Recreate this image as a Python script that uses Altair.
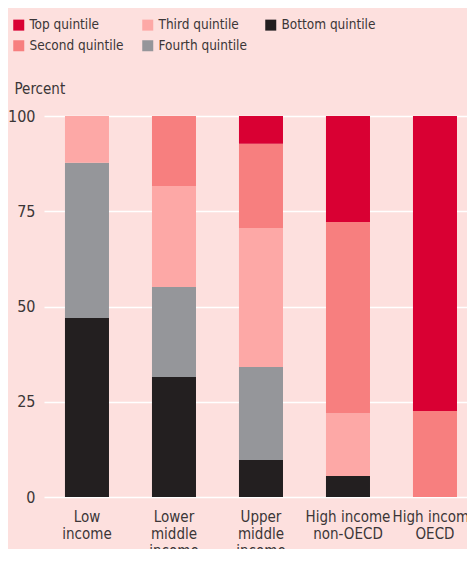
import altair as alt
import pandas as pd

categories = ["Low|income", "Lower|middle|income", "Upper|middle|income",
              "High income|non-OECD", "High income|OECD"]
quintiles = ["Bottom quintile", "Fourth quintile", "Third quintile",
             "Second quintile", "Top quintile"]
# values per quintile (bottom..top) for each category, percent
bottom = [47.0, 31.5, 9.7, 5.5, 0.0]
fourth = [40.7, 23.6, 24.4, 0.0, 0.0]
third = [12.3, 26.5, 36.5, 16.5, 0.0]
second = [0.0, 18.4, 22.1, 50.2, 22.6]
top = [0.0, 0.0, 7.3, 27.8, 77.4]

series = [bottom, fourth, third, second, top]
rows = []
for qi, (q, vals) in enumerate(zip(quintiles, series)):
    for c, v in zip(categories, vals):
        rows.append({"category": c, "quintile": q, "value": v, "order": qi})
df = pd.DataFrame(rows)

legend_domain = ["Top quintile", "Second quintile", "Third quintile",
                 "Fourth quintile", "Bottom quintile"]
legend_range = ["#d90033", "#f77f7f", "#fda8a6", "#95969a", "#231f20"]

FONT = "DejaVu Sans Condensed, DejaVu Sans"
TXT = "#3b3637"

chart = alt.Chart(df).mark_bar().encode(
    x=alt.X("category:N", sort=categories,
            scale=alt.Scale(paddingInner=0.494, paddingOuter=0.178, align=0.677),
            axis=alt.Axis(title=None, labelAngle=0, domain=False, ticks=False,
                          labelExpr="split(datum.value, '|')",
                          labelFontSize=15, labelLineHeight=17,
                          labelPadding=12, labelBaseline="top",
                          labelColor=TXT, labelFont=FONT)),
    y=alt.Y("value:Q", stack="zero",
            scale=alt.Scale(domain=[0, 100], nice=False),
            axis=alt.Axis(values=[0, 25, 50, 75, 100], title="Percent",
                          domain=False, ticks=False, grid=True,
                          gridColor="#ffffff", gridWidth=1.5,
                          labelFontSize=16, labelColor=TXT, labelFont=FONT,
                          labelPadding=9,
                          titleAngle=0, titleX=-30, titleY=-23,
                          titleAlign="left", titleBaseline="alphabetic",
                          titleFontSize=15, titleFontWeight="normal",
                          titleColor=TXT, titleFont=FONT)),
    color=alt.Color("quintile:N",
                    scale=alt.Scale(domain=legend_domain, range=legend_range),
                    legend=alt.Legend(title=None, orient="none",
                                      legendX=-32, legendY=-98,
                                      columns=3, columnPadding=17,
                                      rowPadding=6, symbolType="square",
                                      symbolSize=121, symbolStrokeWidth=0,
                                      symbolOpacity=1,
                                      labelFontSize=13.5, labelColor=TXT,
                                      labelFont=FONT, labelOffset=4,
                                      padding=0)),
    order=alt.Order("order:Q", sort="ascending"),
).properties(
    width=423, height=381,
    autosize=alt.AutoSizeParams(type="none"),
    padding={"left": 36, "top": 108, "right": 0, "bottom": 52},
    background="#fde0de",
).configure_view(stroke=None, fill="#fde0de")

chart.save("out.html", embed_options={"renderer": "svg", "actions": False})
